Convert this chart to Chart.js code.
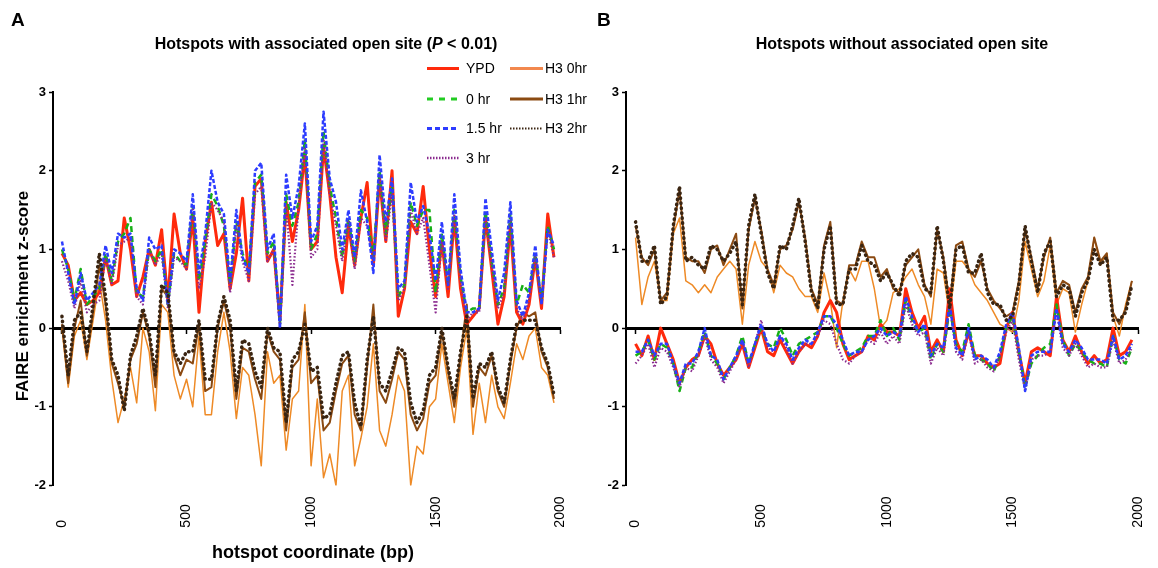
<!DOCTYPE html>
<html>
<head>
<meta charset="utf-8">
<script src="https://cdn.jsdelivr.net/npm/chart.js@4.4.1/dist/chart.umd.min.js"></script>
<style>
  body { margin: 0; background: #fff; font-family: "Liberation Sans", Arial, sans-serif; }
  #wrap { position: relative; width: 1158px; height: 568px; overflow: hidden; }
  canvas { position: absolute; top: 0; }
  .t { position: absolute; white-space: nowrap; color: #000; }
  .panel { font-size: 19px; font-weight: bold; }
  .title { font-size: 16px; line-height: 18px; font-weight: bold; text-align: center; width: 500px; }
  .leg { font-size: 14px; line-height: 16px; }
</style>
</head>
<body>
<div id="wrap">
  <canvas id="chartA" width="580" height="568" style="left:0"></canvas>
  <canvas id="chartB" width="578" height="568" style="left:580px"></canvas>

  <div class="t panel" style="left:11px; top:9px">A</div>
  <div class="t panel" style="left:597px; top:9px">B</div>
  <div class="t title" style="left:76px; top:35px">Hotspots with associated open site (<i>P</i> &lt; 0.01)</div>
  <div class="t title" style="left:652px; top:35px">Hotspots without associated open site</div>
  <div class="t" style="left:-127px; top:286px; width:300px; line-height:20px; text-align:center; font-size:17px; font-weight:bold; transform:rotate(-90deg)">FAIRE enrichment z-score</div>
  <div class="t" style="left:163px; top:541px; width:300px; line-height:22px; text-align:center; font-size:18px; font-weight:bold">hotspot coordinate (bp)</div>

  <svg class="t" style="left:0; top:0" width="600" height="180">
    <line x1="427" y1="68.5" x2="459" y2="68.5" stroke="#ff2a0c" stroke-width="3"/>
    <line x1="427" y1="99" x2="459" y2="99" stroke="#22cc22" stroke-width="3" stroke-dasharray="6,6"/>
    <line x1="427" y1="128.5" x2="459" y2="128.5" stroke="#2d3cff" stroke-width="3" stroke-dasharray="5,3"/>
    <line x1="427" y1="158" x2="459" y2="158" stroke="#8a2a8e" stroke-width="2.5" stroke-dasharray="1.5,1.5"/>
    <line x1="510" y1="68.5" x2="543" y2="68.5" stroke="#f2884e" stroke-width="3"/>
    <line x1="510" y1="99" x2="543" y2="99" stroke="#8b4a12" stroke-width="3"/>
    <line x1="510" y1="128.5" x2="543" y2="128.5" stroke="#3a2512" stroke-width="2" stroke-dasharray="1.5,1.5"/>
  </svg>
  <div class="t leg" style="left:466px; top:60px">YPD</div>
  <div class="t leg" style="left:466px; top:91px">0 hr</div>
  <div class="t leg" style="left:466px; top:120px">1.5 hr</div>
  <div class="t leg" style="left:466px; top:150px">3 hr</div>
  <div class="t leg" style="left:545px; top:60px">H3 0hr</div>
  <div class="t leg" style="left:545px; top:91px">H3 1hr</div>
  <div class="t leg" style="left:545px; top:120px">H3 2hr</div>
</div>

<script>
// hotspot coordinate (bp), every 25 bp
const coord = [0, 25, 50, 75, 100, 125, 150, 175, 200, 225,
  250, 275, 300, 325, 350, 375, 400, 425, 450, 475,
  500, 525, 550, 575, 600, 625, 650, 675, 700, 725,
  750, 775, 800, 825, 850, 875, 900, 925, 950, 975,
  1000, 1025, 1050, 1075, 1100, 1125, 1150, 1175, 1200, 1225,
  1250, 1275, 1300, 1325, 1350, 1375, 1400, 1425, 1450, 1475,
  1500, 1525, 1550, 1575, 1600, 1625, 1650, 1675, 1700, 1725,
  1750, 1775, 1800, 1825, 1850, 1875, 1900, 1925, 1950, 1975];
const xTicks = [0, 500, 1000, 1500, 2000];
const yTicks = [-2, -1, 0, 1, 2, 3];

// panel A: hotspots with associated open site
const aYPD = [0.95, 0.8, 0.35, 0.45, 0.3, 0.35, 0.45, 0.9, 0.55, 0.6,
  1.4, 1.0, 0.4, 0.65, 1.0, 0.8, 1.25, 0.35, 1.45, 0.95,
  0.75, 1.4, 0.2, 1.1, 1.6, 1.05, 1.2, 0.5, 0.95, 1.65,
  0.6, 1.8, 1.9, 0.85, 1.0, 0.1, 1.6, 1.1, 1.5, 2.2,
  1.0, 1.1, 2.3, 1.7, 0.9, 0.45, 1.3, 0.8, 1.4, 1.85,
  0.8, 1.9, 1.1, 2.0, 0.15, 0.5, 1.35, 1.2, 1.8, 1.0,
  0.4, 1.1, 0.4, 1.4, 0.5, 0.05, 0.15, 0.25, 1.4, 0.75,
  0.05, 0.4, 1.3, 0.2, 0.05, 0.3, 0.9, 0.25, 1.45, 0.9];
const a0hr = [1.0, 0.75, 0.35, 0.75, 0.3, 0.4, 0.5, 0.95, 0.6, 1.1,
  1.2, 1.4, 0.45, 0.4, 1.0, 0.85, 1.0, 0.3, 0.95, 0.85,
  0.8, 1.55, 0.6, 1.1, 1.7, 1.55, 1.3, 0.55, 1.35, 0.95,
  0.7, 1.85, 1.95, 0.95, 1.1, 0.05, 1.7, 1.3, 1.6, 2.4,
  1.0, 1.2, 2.5, 1.8, 1.4, 0.9, 1.4, 0.85, 1.5, 1.4,
  0.9, 2.0, 1.2, 1.8, 0.4, 0.55, 1.6, 1.3, 1.5, 1.5,
  0.45, 1.2, 0.55, 1.5, 0.65, 0.2, 0.25, 0.25, 1.5, 0.85,
  0.3, 0.5, 1.45, 0.3, 0.55, 0.45, 0.95, 0.35, 1.3, 1.0];
const a15hr = [1.1, 0.7, 0.3, 0.7, 0.35, 0.45, 0.55, 1.05, 0.7, 1.2,
  1.15, 1.2, 0.5, 0.35, 1.15, 1.0, 1.05, 0.3, 1.0, 0.95,
  0.85, 1.7, 0.7, 1.2, 2.0, 1.6, 1.45, 0.6, 1.5, 0.9,
  0.7, 2.0, 2.1, 1.0, 1.2, 0.0, 1.95, 1.4, 1.8, 2.6,
  1.1, 1.3, 2.75, 1.9, 1.6, 1.0, 1.5, 0.9, 1.75, 1.35,
  0.7, 2.2, 1.35, 1.9, 0.5, 0.6, 1.85, 1.35, 1.55, 1.2,
  0.6, 1.35, 0.55, 1.7, 0.75, 0.2, 0.2, 0.25, 1.65, 1.0,
  0.35, 0.7, 1.6, 0.35, 0.15, 0.45, 1.05, 0.3, 1.25, 1.05];
const a3hr = [0.85, 0.6, 0.25, 0.6, 0.2, 0.3, 0.35, 0.9, 0.55, 1.05,
  1.1, 1.15, 0.4, 0.3, 1.0, 0.8, 0.95, 0.25, 0.9, 0.85,
  0.75, 1.55, 0.5, 0.9, 1.6, 1.5, 1.35, 0.45, 1.3, 0.85,
  0.6, 1.7, 1.8, 0.85, 1.0, 0.0, 1.55, 0.55, 1.55, 2.3,
  0.9, 1.0, 2.4, 1.7, 1.3, 0.85, 1.35, 0.75, 1.4, 1.3,
  0.85, 1.95, 1.1, 1.7, 0.35, 0.5, 1.5, 1.2, 1.4, 0.8,
  0.2, 1.1, 0.5, 1.45, 0.6, 0.1, 0.2, 0.2, 1.4, 0.8,
  0.25, 0.45, 1.4, 0.25, 0.1, 0.35, 0.9, 0.3, 1.25, 0.9];
const aH3_0 = [0.0, -0.75, -0.1, 0.1, -0.4, 0.1, 0.6, 0.1, -0.65, -1.2,
  -0.9, -0.5, -0.95, 0.0, -0.3, -1.05, 0.3, 0.2, -0.6, -0.9,
  -0.65, -1.0, -0.1, -1.1, -1.1, -0.3, 0.2, -0.3, -1.15, -0.5,
  -0.6, -1.1, -1.75, -0.3, -0.7, -0.6, -1.55, -0.9, -0.8, 0.3,
  -1.75, -0.9, -1.9, -1.6, -2.0, -0.8, -0.6, -1.75, -1.4, -1.0,
  -0.2, -1.3, -1.5, -1.1, -0.6, -0.8, -2.0, -1.5, -1.6, -1.0,
  -0.9, -0.2, -0.7, -1.2, -0.5, 0.0, -1.35, -0.7, -1.2, -0.6,
  -1.0, -1.15, -0.7, -0.2, -0.4, -0.1, 0.0, -0.5, -0.6, -0.95];
const aH3_1 = [0.05, -0.7, 0.0, 0.35, -0.35, 0.2, 0.8, 0.3, -0.45, -0.7,
  -1.0, -0.4, -0.2, 0.2, -0.1, -0.75, 0.5, 0.4, -0.35, -0.6,
  -0.4, -0.45, 0.05, -0.8, -0.75, 0.0, 0.35, 0.0, -0.9, -0.25,
  -0.3, -0.65, -0.9, -0.05, -0.3, -0.4, -1.3, -0.5, -0.4, 0.2,
  -0.7, -0.6, -1.3, -1.2, -0.8, -0.45, -0.35, -1.1, -1.3, -0.5,
  0.3, -0.8, -0.95, -0.65, -0.3, -0.4, -1.1, -1.3, -1.15, -0.7,
  -0.6, -0.05, -0.55, -1.0, -0.35, 0.3, -1.0, -0.5, -0.6, -0.35,
  -0.8, -1.0, -0.45, 0.0, 0.2, 0.15, 0.2, -0.3, -0.5, -0.9];
const aH3_2 = [0.15, -0.6, 0.1, 0.2, -0.3, 0.3, 0.95, 0.4, -0.4, -0.6,
  -1.05, -0.35, -0.1, 0.25, -0.05, -0.6, 0.55, 0.45, -0.3, -0.45,
  -0.3, -0.3, 0.1, -0.65, -0.65, 0.05, 0.4, 0.1, -0.8, -0.15,
  -0.2, -0.55, -0.75, 0.0, -0.25, -0.3, -1.2, -0.4, -0.3, 0.05,
  -0.55, -0.5, -1.15, -1.1, -0.7, -0.35, -0.3, -0.95, -1.25, -0.4,
  0.15, -0.7, -0.8, -0.55, -0.25, -0.3, -0.95, -1.2, -1.05, -0.6,
  -0.5, 0.0, -0.5, -0.9, -0.3, 0.15, -0.9, -0.45, -0.5, -0.3,
  -0.75, -0.95, -0.4, 0.05, 0.1, 0.1, 0.1, -0.25, -0.45, -0.85];

// panel B: hotspots without associated open site
const bYPD = [-0.2, -0.35, -0.1, -0.4, 0.0, -0.2, -0.4, -0.7, -0.5, -0.4,
  -0.35, -0.1, -0.2, -0.45, -0.6, -0.5, -0.4, -0.2, -0.5, -0.25,
  0.0, -0.3, -0.35, -0.15, -0.3, -0.45, -0.3, -0.2, -0.25, -0.1,
  0.2, 0.35, 0.2, -0.2, -0.4, -0.35, -0.3, -0.1, -0.15, 0.05,
  -0.05, -0.05, -0.1, 0.5, 0.2, 0.0, 0.15, -0.3, -0.15, -0.3,
  0.5, -0.15, -0.35, -0.05, -0.35, -0.35, -0.45, -0.5, -0.45, 0.0,
  0.2, -0.3, -0.7, -0.3, -0.25, -0.3, -0.35, 0.4, -0.15, -0.3,
  -0.1, -0.3, -0.45, -0.35, -0.45, -0.4, 0.0, -0.35, -0.3, -0.15];
const b0hr = [-0.35, -0.3, -0.15, -0.4, -0.2, -0.25, -0.45, -0.8, -0.5, -0.5,
  -0.3, -0.05, -0.35, -0.45, -0.65, -0.5, -0.35, -0.1, -0.45, -0.2,
  0.0, -0.2, -0.25, 0.0, -0.15, -0.35, -0.2, -0.15, -0.1, -0.05,
  0.15, 0.15, 0.0, -0.2, -0.35, -0.3, -0.25, -0.1, -0.1, 0.1,
  -0.1, 0.0, -0.15, 0.35, 0.1, -0.05, 0.0, -0.4, -0.2, -0.3,
  0.25, -0.2, -0.3, 0.05, -0.35, -0.4, -0.45, -0.55, -0.35, 0.0,
  0.15, -0.3, -0.75, -0.45, -0.35, -0.25, -0.2, 0.3, -0.15, -0.35,
  -0.2, -0.3, -0.4, -0.45, -0.45, -0.5, -0.1, -0.4, -0.45, -0.25];
const b15hr = [-0.3, -0.3, -0.15, -0.35, -0.2, -0.2, -0.45, -0.7, -0.45, -0.45,
  -0.3, 0.0, -0.35, -0.4, -0.65, -0.5, -0.35, -0.15, -0.45, -0.2,
  0.05, -0.2, -0.3, -0.1, -0.2, -0.4, -0.25, -0.15, -0.2, -0.05,
  0.15, 0.15, 0.05, -0.15, -0.35, -0.3, -0.3, -0.15, -0.1, 0.0,
  -0.1, -0.05, -0.1, 0.4, 0.15, -0.05, 0.05, -0.35, -0.2, -0.25,
  0.3, -0.25, -0.35, 0.0, -0.4, -0.35, -0.4, -0.5, -0.3, 0.05,
  0.2, -0.25, -0.8, -0.35, -0.3, -0.3, -0.3, 0.25, -0.2, -0.3,
  -0.15, -0.25, -0.4, -0.4, -0.4, -0.45, -0.1, -0.4, -0.35, -0.2];
const b3hr = [-0.45, -0.35, -0.2, -0.5, -0.25, -0.3, -0.5, -0.75, -0.5, -0.55,
  -0.35, -0.1, -0.4, -0.5, -0.7, -0.55, -0.4, -0.15, -0.5, -0.2,
  0.1, -0.25, -0.3, -0.1, -0.25, -0.45, -0.3, -0.2, -0.2, -0.1,
  0.1, 0.05, -0.2, -0.4, -0.45, -0.35, -0.3, -0.15, -0.2, -0.05,
  -0.2, -0.1, -0.2, 0.3, 0.05, -0.1, -0.05, -0.45, -0.25, -0.35,
  0.3, -0.3, -0.4, -0.05, -0.45, -0.4, -0.5, -0.55, -0.35, -0.05,
  0.1, -0.4, -0.8, -0.4, -0.35, -0.35, -0.3, 0.2, -0.25, -0.35,
  -0.2, -0.35, -0.5, -0.45, -0.5, -0.5, -0.15, -0.45, -0.4, -0.25];
const bH3_0 = [1.15, 0.3, 0.65, 0.85, 0.35, 0.35, 1.2, 1.4, 0.6, 0.55,
  0.45, 0.55, 0.45, 0.65, 0.75, 0.85, 0.75, 0.05, 0.8, 1.1,
  0.85, 0.75, 0.45, 0.8, 0.7, 0.65, 0.5, 0.4, 0.4, 0.2,
  0.7, 0.35, -0.25, 0.35, 0.75, 0.6, 0.85, 0.85, 0.5, 0.0,
  0.1, 0.45, 0.5, 0.65, 0.75, 0.55, 0.4, 0.05, 0.75, 0.7,
  0.15, 0.85, 0.85, 0.75, 0.55, 0.45, 0.35, 0.2, 0.05, 0.0,
  -0.05, 0.35, 1.1, 0.75, 0.4, 0.6, 1.05, 0.3, 0.5, 0.45,
  -0.05, 0.3, 0.6, 1.15, 0.8, 0.95, 0.15, -0.1, 0.3, 0.6];
const bH3_1 = [1.3, 0.9, 0.8, 1.0, 0.35, 0.45, 1.25, 1.75, 0.9, 0.85,
  0.85, 0.7, 1.0, 1.05, 0.8, 1.0, 1.2, 0.25, 1.25, 1.65,
  1.25, 0.75, 0.55, 1.0, 1.05, 1.25, 1.6, 1.15, 0.5, 0.3,
  1.05, 1.35, 0.35, 0.3, 0.8, 0.8, 1.1, 0.9, 0.9, 0.65,
  0.75, 0.5, 0.45, 0.8, 0.9, 1.0, 0.55, 0.4, 1.25, 0.9,
  0.3, 1.05, 1.1, 0.75, 0.65, 0.85, 0.5, 0.35, 0.25, 0.15,
  0.2, 0.6, 1.25, 0.9, 0.5, 0.9, 1.15, 0.45, 0.6, 0.55,
  0.2, 0.5, 0.65, 1.15, 0.85, 0.95, 0.2, 0.05, 0.25, 0.6];
const bH3_2 = [1.35, 0.85, 0.85, 1.05, 0.3, 0.4, 1.3, 1.8, 0.85, 0.9,
  0.8, 0.75, 1.05, 1.0, 0.85, 0.95, 1.1, 0.3, 1.3, 1.7,
  1.2, 0.7, 0.5, 1.05, 1.0, 1.3, 1.65, 1.1, 0.45, 0.25,
  1.0, 1.3, 0.3, 0.3, 0.75, 0.75, 1.05, 0.85, 0.8, 0.6,
  0.7, 0.55, 0.4, 0.85, 0.95, 0.9, 0.5, 0.45, 1.3, 0.85,
  0.25, 1.0, 1.05, 0.7, 0.7, 0.95, 0.45, 0.3, 0.3, 0.1,
  0.15, 0.55, 1.3, 0.85, 0.45, 0.95, 1.1, 0.4, 0.55, 0.5,
  0.15, 0.45, 0.6, 1.0, 0.8, 0.9, 0.1, 0.1, 0.2, 0.55];

const styles = {
  ypd:  { borderColor: '#ff2a0c', borderWidth: 3, order: 5 },
  hr0:  { borderColor: '#17b017', borderWidth: 2.5, borderDash: [6, 4], order: 4 },
  hr15: { borderColor: '#2d3cff', borderWidth: 2.5, borderDash: [4, 2], order: 2 },
  hr3:  { borderColor: '#8a2a8e', borderWidth: 2.2, borderDash: [1.5, 2], order: 3 },
  h30:  { borderColor: '#ee8a26', borderWidth: 1.5, order: 7 },
  h31:  { borderColor: '#8b4a12', borderWidth: 2, order: 6 },
  h32:  { borderColor: '#3a2512', borderWidth: 3.5, borderDash: [0.5, 4.5], borderCapStyle: 'round', order: 1 }
};

const font = '"Liberation Sans", Arial, sans-serif';

function lineSet(label, values, style) {
  return Object.assign({
    label: label,
    data: coord.map((c, i) => ({ x: c, y: values[i] })),
    pointRadius: 0,
    tension: 0,
    fill: false,
    borderJoinStyle: 'round'
  }, style);
}

function setTicks(list) {
  return scale => { scale.ticks = list.map(v => ({ value: v })); };
}

function makePanel(id, sets, xMin, yWidth, padRight) {
  new Chart(document.getElementById(id), {
    type: 'line',
    data: { datasets: sets },
    options: {
      responsive: false,
      animation: false,
      events: [],
      layout: { padding: { top: 92, right: padRight, bottom: 0, left: 0 } },
      plugins: { legend: { display: false }, tooltip: { enabled: false } },
      scales: {
        x: {
          type: 'linear', position: 'bottom', min: xMin, max: 2000,
          afterBuildTicks: setTicks(xTicks),
          afterFit: s => { s.height = 82.5; },
          grid: { display: false },
          border: { display: false },
          ticks: {
            minRotation: 90, maxRotation: 90, padding: 3, color: '#000',
            font: { family: font, size: 14 },
            callback: v => String(v) + '\u2007'.repeat(4 - String(v).length)
          }
        },
        x0: {
          axis: 'x', type: 'linear', position: { y: 0 }, min: xMin, max: 2000, z: 1,
          afterBuildTicks: setTicks(xTicks),
          grid: { drawOnChartArea: false, drawTicks: true, tickLength: 4, color: '#000', tickWidth: 1.5 },
          border: { display: true, color: '#000', width: 3 },
          ticks: { display: false }
        },
        y: {
          type: 'linear', min: -2, max: 3,
          afterBuildTicks: setTicks(yTicks),
          afterFit: s => { s.width = yWidth; },
          grid: { drawOnChartArea: false, drawTicks: true, tickLength: 4, color: '#000', tickWidth: 1.5 },
          border: { display: true, color: '#000', width: 2 },
          ticks: { padding: 3, color: '#000', font: { family: font, size: 13, weight: 'bold' } }
        }
      }
    }
  });
}

makePanel('chartA', [
  lineSet('YPD', aYPD, styles.ypd),
  lineSet('0 hr', a0hr, styles.hr0),
  lineSet('1.5 hr', a15hr, styles.hr15),
  lineSet('3 hr', a3hr, styles.hr3),
  lineSet('H3 0hr', aH3_0, styles.h30),
  lineSet('H3 1hr', aH3_1, styles.h31),
  lineSet('H3 2hr', aH3_2, styles.h32)
], -36, 53, 12);

makePanel('chartB', [
  lineSet('YPD', bYPD, styles.ypd),
  lineSet('0 hr', b0hr, styles.hr0),
  lineSet('1.5 hr', b15hr, styles.hr15),
  lineSet('3 hr', b3hr, styles.hr3),
  lineSet('H3 0hr', bH3_0, styles.h30),
  lineSet('H3 1hr', bH3_1, styles.h31),
  lineSet('H3 2hr', bH3_2, styles.h32)
], -38, 46, 10);
</script>
</body>
</html>
